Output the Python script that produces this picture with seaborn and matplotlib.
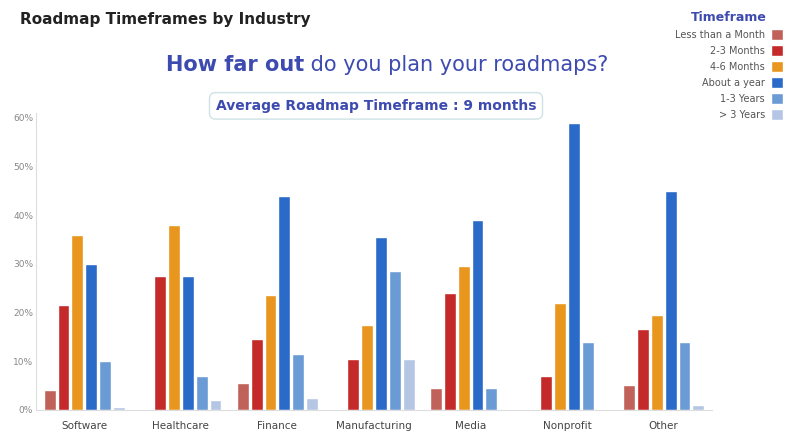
import pandas as pd
import matplotlib.pyplot as plt
import seaborn as sns
from matplotlib.patches import Patch

# ======================
# DATA
# ======================
industries = ["Software", "Healthcare", "Finance", "Manufacturing", "Media", "Nonprofit", "Other"]
timeframes = ["Less than a Month", "2-3 Months", "4-6 Months", "About a year", "1-3 Years", "> 3 Years"]

less_month = [4.0, 0.0, 5.5, 0.0, 4.5, 0.0, 5.0]
months_2_3 = [21.5, 27.5, 14.5, 10.5, 24.0, 7.0, 16.5]
months_4_6 = [36.0, 38.0, 23.5, 17.5, 29.5, 22.0, 19.5]
about_year = [30.0, 27.5, 44.0, 35.5, 39.0, 59.0, 45.0]
years_1_3 = [10.0, 7.0, 11.5, 28.5, 4.5, 14.0, 14.0]
years_3_plus = [0.5, 2.0, 2.5, 10.5, 0.0, 0.0, 1.0]

series = [less_month, months_2_3, months_4_6, about_year, years_1_3, years_3_plus]
rows = []
for tf, vals in zip(timeframes, series):
    for ind, v in zip(industries, vals):
        rows.append({"industry": ind, "timeframe": tf, "pct": v})
df = pd.DataFrame(rows)

colors = ["#c0625a", "#c42a2a", "#e8961e", "#2a6bc9", "#6a9bd4", "#b4c6e4"]

# ======================
# CHART
# ======================
sns.set_style("white")
fig = plt.figure(figsize=(8, 4.43), dpi=100)
ax = fig.add_axes([0.045, 0.075, 0.845, 0.67])

sns.barplot(data=df, x="industry", y="pct", hue="timeframe", hue_order=timeframes,
            palette=colors, saturation=1, width=0.86, gap=0.14, ax=ax, legend=False)

ax.set_ylim(0, 61)
ax.set_yticks(range(0, 61, 10))
ax.set_yticklabels([f"{t}%" for t in range(0, 61, 10)], fontsize=6.5, color="#888888")
ax.tick_params(axis="x", labelsize=7.5, colors="#444444", length=0, pad=8)
ax.tick_params(axis="y", length=0, pad=2)
ax.set_xlabel("")
ax.set_ylabel("")
for s in ["top", "right"]:
    ax.spines[s].set_visible(False)
ax.spines["left"].set_color("#dddddd")
ax.spines["bottom"].set_color("#dddddd")

# titles
fig.text(0.025, 0.945, "Roadmap Timeframes by Industry", fontsize=11, fontweight="bold", color="#222222")
t1 = fig.text(0.207, 0.84, "How far out", fontsize=15, fontweight="bold", color="#3d4bb0")
fig.canvas.draw()
bb = t1.get_window_extent().transformed(fig.transFigure.inverted())
fig.text(bb.x1, 0.84, " do you plan your roadmaps?", fontsize=15, color="#3d4bb0")

fig.text(0.47, 0.752, "Average Roadmap Timeframe : 9 months", fontsize=10, fontweight="bold",
         color="#3d4bb0", ha="center",
         bbox=dict(boxstyle="round,pad=0.45", fc="white", ec="#cfe3e6", lw=1))

# legend
handles = [Patch(facecolor=c, label=l) for c, l in zip(colors, timeframes)]
leg = fig.legend(handles=handles, loc="upper right", bbox_to_anchor=(0.99, 0.995),
                 frameon=False, markerfirst=False, fontsize=7, handlelength=1.3,
                 handleheight=1.3, handletextpad=0.6, labelspacing=0.55, title="Timeframe",
                 title_fontproperties={"size": 9, "weight": "bold"})
leg.get_title().set_color("#3d4bb0")
for t in leg.get_texts():
    t.set_color("#555555")

fig.savefig("out.png", dpi=100)
